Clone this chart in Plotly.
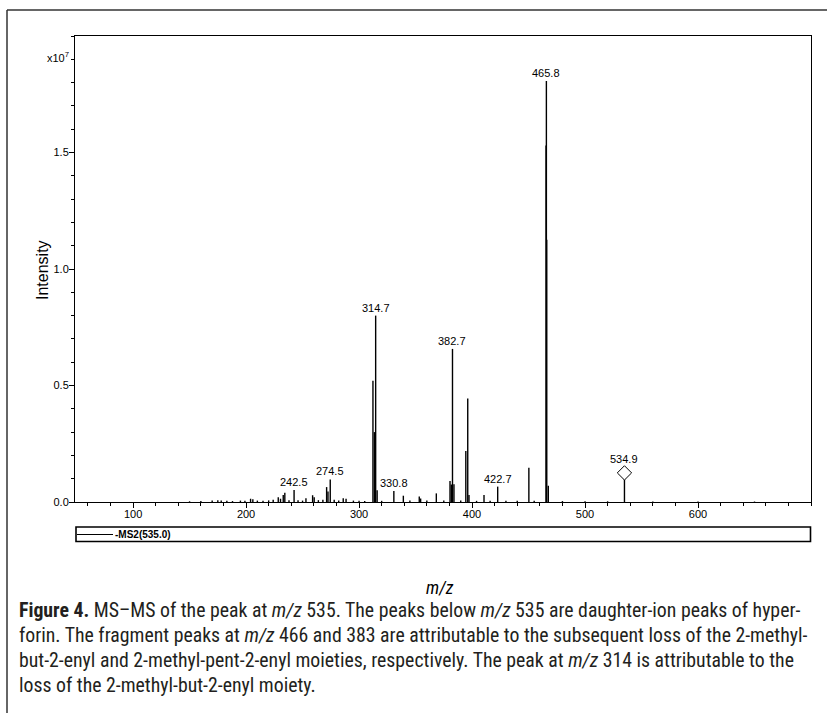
import plotly.graph_objects as go

# ---------------- data (m/z, intensity in units of 1e7) ----------------
peak_mz = [150, 160, 170, 175, 178, 183, 188, 195, 199, 204, 206, 210, 215, 220, 224,
           228.5, 230.5, 232.9, 234.3, 238, 242.5, 246, 250, 253, 258.9, 260.3, 264, 268,
           271.3, 272.5, 274.5, 278, 282, 286, 288.5, 295, 300, 305,
           312.3, 313.6, 314.7, 316, 320, 330.8, 339.2, 345, 353.3, 354.5, 360, 368.4, 375,
           380.5, 381.7, 382.7, 384, 390, 394.5, 396.2, 397.3, 404, 410.6, 416, 422.7, 430,
           440, 450.3, 455, 465.5, 465.8, 466.1, 467.5, 480, 500, 520, 534.9, 560, 600, 650]
peak_int = [0.003, 0.004, 0.006, 0.008, 0.006, 0.005, 0.004, 0.006, 0.005, 0.014, 0.012, 0.006, 0.005, 0.007, 0.010,
            0.020, 0.014, 0.030, 0.040, 0.008, 0.051, 0.008, 0.006, 0.016, 0.029, 0.020, 0.008, 0.010,
            0.064, 0.045, 0.097, 0.010, 0.006, 0.016, 0.014, 0.006, 0.005, 0.004,
            0.520, 0.300, 0.800, 0.050, 0.005, 0.047, 0.027, 0.006, 0.024, 0.015, 0.006, 0.037, 0.006,
            0.090, 0.075, 0.657, 0.076, 0.006, 0.219, 0.444, 0.030, 0.005, 0.030, 0.005, 0.066, 0.005,
            0.005, 0.147, 0.005, 1.530, 1.807, 1.126, 0.070, 0.004, 0.003, 0.003, 0.125, 0.002, 0.002, 0.002]

label_mz = [242.5, 274.5, 314.7, 330.8, 382.7, 422.7, 465.8]
label_int = [0.051, 0.097, 0.800, 0.047, 0.657, 0.066, 1.807]
precursor_mz = [534.9]
precursor_int = [0.125]

x_ticks = [100, 200, 300, 400, 500, 600]
y_ticks = [0.0, 0.5, 1.0, 1.5]
y_tick_text = ["0.0", "0.5", "1.0", "1.5"]

caption_lines = [
    "<b>Figure 4.</b> MS–MS of the peak at <i>m/z</i> 535. The peaks below <i>m/z</i> 535 are daughter-ion peaks of hyper-",
    "forin. The fragment peaks at <i>m/z</i> 466 and 383 are attributable to the subsequent loss of the 2-methyl-",
    "but-2-enyl and 2-methyl-pent-2-enyl moieties, respectively. The peak at <i>m/z</i> 314 is attributable to the",
    "loss of the 2-methyl-but-2-enyl moiety.",
]

# ---------------- layout geometry ----------------
W, H = 827, 713
ML, MR, MT, MB = 75, 16, 36, 211
PW, PH = W - ML - MR, H - MT - MB


def px(xp):
    return (xp - ML) / PW


def py(yp):
    return (H - MB - yp) / PH


# stick spectrum built from the arrays
xs, ys = [], []
for m, v in zip(peak_mz, peak_int):
    xs += [m, m, None]
    ys += [0, v, None]

fig = go.Figure()
fig.add_trace(go.Scatter(x=xs, y=ys, mode="lines", line=dict(color="black", width=1.4),
                         hoverinfo="skip", showlegend=False))
fig.add_trace(go.Scatter(x=precursor_mz, y=precursor_int, mode="markers",
                         marker=dict(symbol="diamond", size=11, color="white",
                                     line=dict(color="black", width=1)),
                         hoverinfo="skip", showlegend=False))

lab_font = dict(family="Liberation Sans, Arial, sans-serif", size=11, color="black")
for m, v in zip(label_mz, label_int):
    fig.add_annotation(x=m, y=v, text=f"{m:.1f}", showarrow=False, yanchor="bottom",
                       xanchor="center", font=lab_font, yshift=0)
for m, v in zip(precursor_mz, precursor_int):
    fig.add_annotation(x=m, y=v, text=f"{m:.1f}", showarrow=False, yanchor="bottom",
                       xanchor="center", font=lab_font, yshift=6)

# multiplier
fig.add_annotation(xref="paper", yref="paper", x=px(71), y=py(57), text="x10<sup>7</sup>",
                   showarrow=False, xanchor="right", yanchor="middle", font=lab_font)

# y axis title
fig.add_annotation(xref="paper", yref="paper", x=px(42), y=py(270), text="Intensity",
                   textangle=-90, showarrow=False, xanchor="center", yanchor="middle",
                   font=dict(family="Liberation Sans, Arial, sans-serif", size=16, color="black"))

cond = "Roboto Condensed, Liberation Sans Narrow, DejaVu Sans Condensed, Roboto, sans-serif"

# m/z title
fig.add_annotation(xref="paper", yref="paper", x=px(440), y=py(587), text="<i>m/z</i>",
                   showarrow=False, xanchor="center", yanchor="middle",
                   font=dict(family=cond, size=18, color="black"))

# legend strip
fig.add_shape(type="rect", xref="paper", yref="paper", x0=px(76), x1=px(810.5),
              y0=py(527), y1=py(541.5), line=dict(color="black", width=1.6), fillcolor="white")
fig.add_shape(type="line", xref="paper", yref="paper", x0=px(77), x1=px(113),
              y0=py(534.5), y1=py(534.5), line=dict(color="black", width=1))
fig.add_annotation(xref="paper", yref="paper", x=px(113), y=py(534.5), text="<b>-MS2(535.0)</b>",
                   showarrow=False, xanchor="left", yanchor="middle",
                   font=dict(family="Liberation Sans, Arial, sans-serif", size=10, color="black"))

# outer frame (top and left)
fig.add_shape(type="line", xref="paper", yref="paper", x0=px(7), x1=px(827), y0=py(10), y1=py(10),
              line=dict(color="#333333", width=1.5))
fig.add_shape(type="line", xref="paper", yref="paper", x0=px(7), x1=px(7), y0=py(10), y1=py(713),
              line=dict(color="#333333", width=1.5))

# caption
cap_font = dict(family=cond, size=19.8, color="#231f20")
for i, line in enumerate(caption_lines):
    fig.add_annotation(xref="paper", yref="paper", x=px(17), y=py(610 + 25 * i), text=line,
                       showarrow=False, xanchor="left", yanchor="middle", font=cap_font)

fig.update_layout(
    width=W, height=H,
    margin=dict(l=ML, r=MR, t=MT, b=MB),
    paper_bgcolor="white", plot_bgcolor="white",
    showlegend=False,
    font=dict(family="Liberation Sans, Arial, sans-serif", size=11, color="black"),
)
fig.update_xaxes(range=[48.6, 700], tickvals=x_ticks, ticks="outside", ticklen=5, tickwidth=1,
                 tickcolor="black", showline=True, linecolor="black", linewidth=1, mirror=True,
                 showgrid=False, zeroline=False, tickfont=lab_font, ticklabelstandoff=-3,
                 minor=dict(tick0=0, dtick=20, ticks="outside", ticklen=3, tickcolor="black"))
fig.update_yaxes(range=[0, 2.0], tickvals=y_ticks, ticktext=y_tick_text, ticks="outside", ticklen=5,
                 tickwidth=1, tickcolor="black", showline=True, linecolor="black", linewidth=1,
                 mirror=True, showgrid=False, zeroline=False, tickfont=lab_font, ticklabelstandoff=-2,
                 minor=dict(tick0=0, dtick=0.1, ticks="outside", ticklen=3, tickcolor="black"))

fig.write_html("out.html", config={"displayModeBar": False},
               post_script="document.body.style.margin='0';")
